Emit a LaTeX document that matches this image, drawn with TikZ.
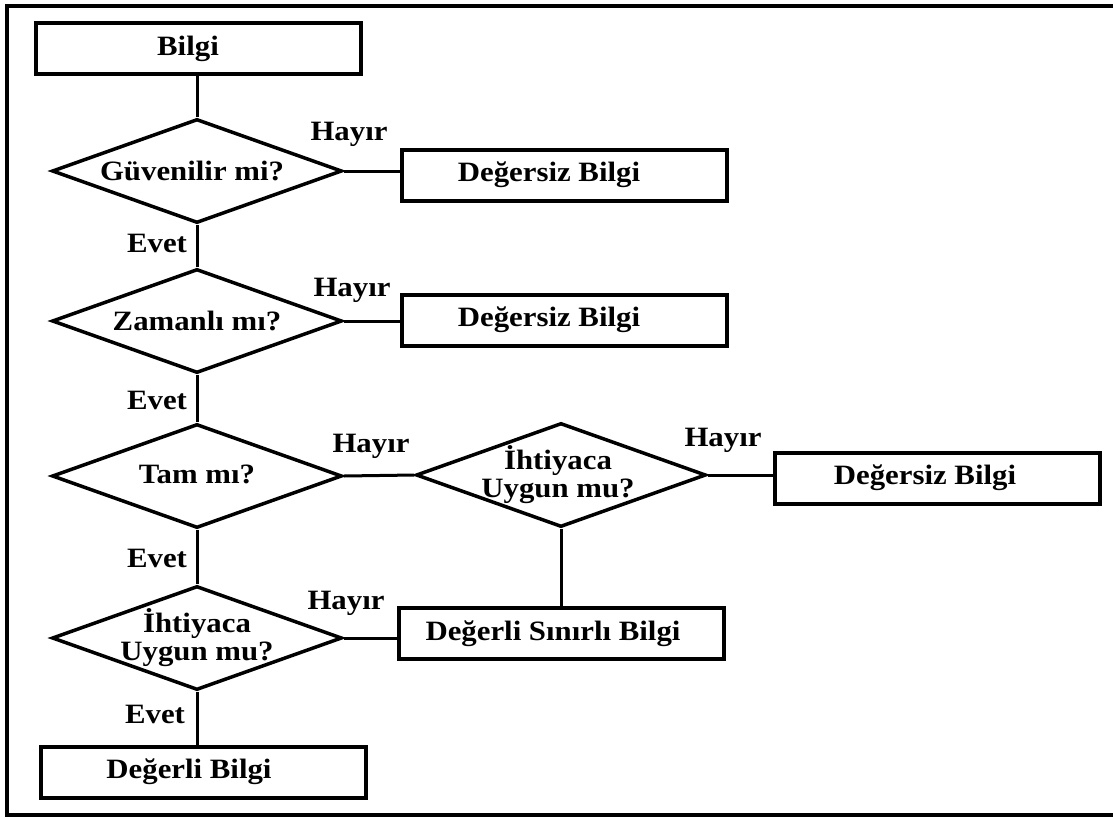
\documentclass[tikz,border=0pt]{standalone}
\usepackage{fontspec}
\setmainfont{Liberation Serif}[FakeStretch=1.1]
\usetikzlibrary{shapes.geometric}
\begin{document}
\begin{tikzpicture}[x=1pt,y=-1pt,
  box/.style={draw, line width=4pt, minimum width=325pt, minimum height=51pt, inner sep=0pt, font=\bfseries\fontsize{28}{25}\selectfont},
  dia/.style={draw, diamond, line width=3.5pt, inner sep=0pt, minimum width=290pt, minimum height=104pt},
  txt/.style={font=\bfseries\fontsize{28}{28}\selectfont, align=center, inner sep=0pt},
  lbl/.style={font=\bfseries\fontsize{28}{25}\selectfont, inner sep=0pt},
  conn/.style={line width=3pt},
  frame/.style={line width=4pt}]
\useasboundingbox (0,0) rectangle (1113,817);
\draw[frame] (1113,5.5) -- (6.5,5.5) -- (6.5,814.5) -- (1113,814.5);

\node[box] (bilgi) at (198,48.5) {Bilgi\hspace*{20pt}};
\node[dia] (d1) at (197,171) {};
\node[txt] (t1) at (192,171) {Güvenilir mi?};
\node[box] (v1) at (564,175) {Değersiz Bilgi\hspace*{30pt}};
\node[dia] (d2) at (197,321) {};
\node[txt] (t2) at (197,321) {Zamanlı mı?};
\node[box] (v2) at (564,320) {Değersiz Bilgi\hspace*{30pt}};
\node[dia] (d3) at (197,476) {};
\node[txt] (t3) at (197,474) {Tam mı?};
\node[dia] (d4) at (561,475) {};
\node[txt] (t4) at (558,475) {İhtiyaca\\Uygun mu?};
\node[box] (v3) at (937,478) {Değersiz Bilgi\hspace*{24pt}};
\node[dia] (d5) at (197,638) {};
\node[txt] (t5) at (197,638) {İhtiyaca\\Uygun mu?};
\node[box] (sin) at (561,633.5) {Değerli Sınırlı Bilgi\hspace*{16pt}};
\node[box] (deg) at (203,772) {Değerli Bilgi\hspace*{28pt}};

\node[lbl] (h1) at (349,134) {Hayır};
\node[lbl] (e1) at (157,243) {Evet};
\node[lbl] (h2) at (352,290) {Hayır};
\node[lbl] (e2) at (157,400) {Evet};
\node[lbl] (h3) at (371,446) {Hayır};
\node[lbl] (h4) at (723,440) {Hayır};
\node[lbl] (e3) at (157,558) {Evet};
\node[lbl] (h5) at (346,603) {Hayır};
\node[lbl] (e4) at (155,714) {Evet};

\draw[conn] (bilgi.south -| d1.north) -- (d1.north);
\draw[conn] (d1.east) -- (d1.east -| v1.west);
\draw[conn] (d1.south) -- (d2.north);
\draw[conn] (d2.east) -- (d2.east -| v2.west);
\draw[conn] (d2.south) -- (d3.north);
\draw[conn] (d3.east) -- (d4.west);
\draw[conn] (d4.east) -- (d4.east -| v3.west);
\draw[conn] (d4.south) -- (d4.south |- sin.north);
\draw[conn] (d3.south) -- (d5.north);
\draw[conn] (d5.east) -- (d5.east -| sin.west);
\draw[conn] (d5.south) -- (d5.south |- deg.north);
\end{tikzpicture}
\end{document}
